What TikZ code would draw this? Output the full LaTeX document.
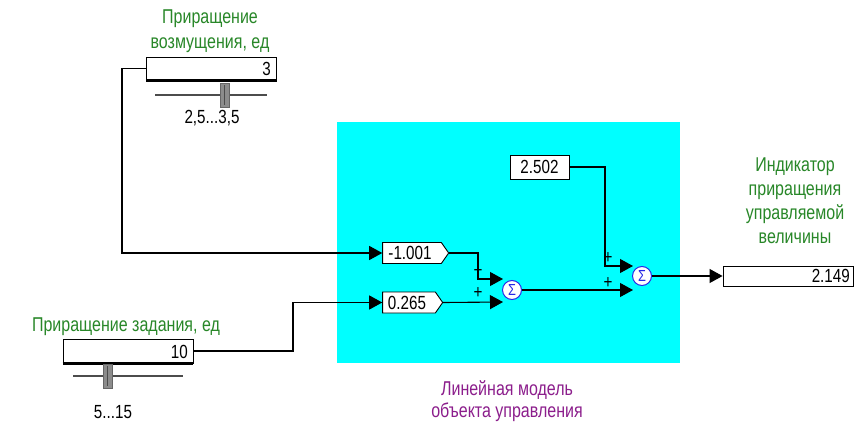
\documentclass[tikz,border=0pt]{standalone}
\usepackage{fontspec}
\setmainfont[FakeStretch=0.8]{Liberation Sans}
\usetikzlibrary{arrows.meta,shapes.symbols}
\definecolor{lblgreen}{RGB}{40,135,40}
\definecolor{lblpurple}{RGB}{140,30,140}
\definecolor{bgcyan}{RGB}{0,255,255}
\definecolor{sumblue}{RGB}{40,40,230}
\begin{document}
\begin{tikzpicture}[x=1pt,y=-1pt,
  every node/.style={font=\fontsize{19}{22}\selectfont, inner sep=0pt},
  glabel/.style={text=lblgreen, align=center, font=\fontsize{20}{24.5}\selectfont},
  plabel/.style={text=lblpurple, align=center, font=\fontsize{20}{22}\selectfont},
  valbox/.style={draw=black, line width=0.9pt, fill=white, minimum height=#1, text depth=0pt, align=right},
  sigbox/.style={signal, signal to=east, signal pointer angle=110, draw=black, line width=0.9pt, fill=white, minimum height=21pt},
  sumnode/.style={circle, draw=sumblue, line width=1pt, fill=white, minimum size=19pt, text=sumblue, font=\fontsize{16}{16}\selectfont},
  wire/.style={line width=1.1pt, draw=black},
  arr/.style={wire, -{Triangle[length=13pt,width=14pt]}},
  plus/.style={font=\fontsize{19}{19}\selectfont},
  track/.style={line width=1.1pt, draw=black!70},
  thumb/.style={fill=black!45, draw=black!60, line width=0.6pt}
]
\useasboundingbox (0,0) rectangle (856,428);
\fill[white] (0,0) rectangle (856,428);

% cyan model area
\fill[bgcyan] (337,122) rectangle (680,363);

% top slider
\node[glabel] (lbltop) at (210,31) {Приращение\\ возмущения, ед};
\node[valbox=23pt, minimum width=130pt] (topbox) at (211.5,68.5) {};
\node[anchor=east] (topval) at (271,69) {3};
\draw[line width=2.4pt] (topbox.south west) -- (topbox.south east);
\draw[track] (155,95) -- (267,95);
\draw[thumb] (220,83) rectangle (229,107);
\draw[black!70, line width=0.6pt] (224.5,85) -- (224.5,105);
\node (toprange) at (212,118) {2,5...3,5};

% bottom slider
\node[text=lblgreen, font=\fontsize{20}{24}\selectfont] (lblbot) at (126,327) {Приращение задания, ед};
\node[valbox=24pt, minimum width=130pt] (botbox) at (128,351) {};
\node[anchor=east] (botval) at (188,351.5) {10};
\draw[line width=2.4pt] (botbox.south west) -- (botbox.south east);
\draw[track] (73,376) -- (183,376);
\draw[thumb] (103,364) rectangle (112,388);
\draw[black!70, line width=0.6pt] (107.5,366) -- (107.5,386);
\node (botrange) at (113,412) {5...15};

% gain blocks
\node[sigbox, minimum width=66pt] (m1) at (412,253) {\hspace*{-4pt}-1.001};
\node[sigbox, minimum width=60pt] (m2) at (409,302.5) {\hspace*{-4pt}0.265};
\node[valbox=24pt, minimum width=59pt, align=center] (c2502) at (539.5,167) {2.502};

% summators
\node[sumnode] (s1) at (512,290) {Σ};
\node[sumnode] (s2) at (642,276) {Σ};

% indicator
\node[valbox=20pt, minimum width=130pt] (ind) at (788,276) {};
\node[anchor=east] (indval) at (850,276) {2.149};
\node[glabel, font=\fontsize{20}{24}\selectfont] (lblind) at (795,201) {Индикатор\\ приращения\\ управляемой\\ величины};

% model label
\node[plabel] (lblmod) at (507,401) {Линейная модель\\ объекта управления};

% connectors
\coordinate (t1) at (122,68.5);
\coordinate (b1) at (293,351);
\coordinate (s1in1) at (503,279);
\coordinate (s1in2) at (503,302);
\coordinate (s2in1) at (633,266);
\coordinate (s2in2) at (633,290);
\draw[arr] (topbox.west) -- (t1) |- (m1.west);
\draw[arr] (botbox.east) -- (b1) |- (m2.west);
\draw[arr] (m1.east) -| (478,279) -- (s1in1);
\draw[arr] (m2.east) -- (s1in2);
\draw[arr] (s1.east) -- (s2in2);
\draw[arr] (c2502.east) -| (605,266) -- (s2in1);
\draw[arr] (s2.east) -- (ind.west);

% plus signs
\node[plus] (p1) at (478,271) {+};
\node[plus] (p2) at (478,293) {+};
\node[plus] (p3) at (608,258) {+};
\node[plus] (p4) at (608,283) {+};
\end{tikzpicture}
\end{document}
